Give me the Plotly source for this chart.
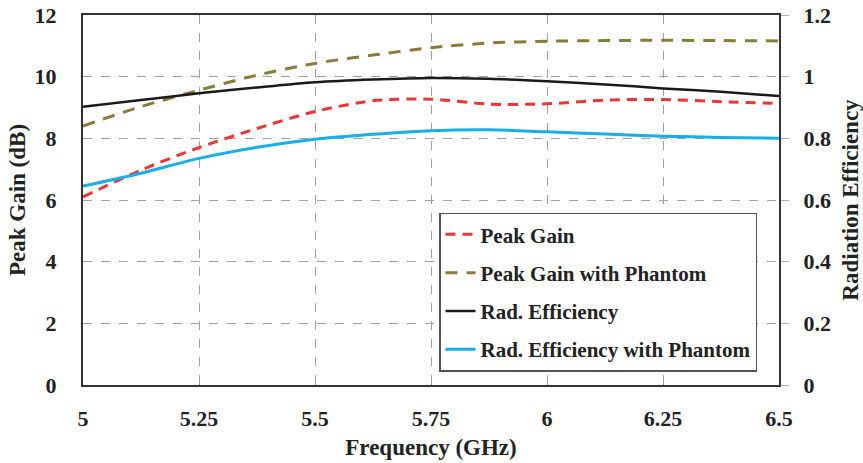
import plotly.graph_objects as go

# Frequency sweep (GHz)
freq = [5.0, 5.125, 5.25, 5.375, 5.5, 5.625, 5.75, 5.875, 6.0, 6.125, 6.25, 6.375, 6.5]

# Peak gain (dB)
peak_gain = [6.10, 6.97, 7.70, 8.32, 8.87, 9.22, 9.27, 9.11, 9.12, 9.24, 9.26, 9.19, 9.13]
peak_gain_phantom = [8.40, 9.03, 9.56, 10.05, 10.43, 10.70, 10.94, 11.09, 11.15, 11.17, 11.18, 11.17, 11.16]

# Radiation efficiency (linear)
rad_eff = [0.902, 0.924, 0.946, 0.965, 0.982, 0.991, 0.996, 0.993, 0.985, 0.975, 0.962, 0.951, 0.937]
rad_eff_phantom = [0.645, 0.687, 0.735, 0.771, 0.797, 0.813, 0.825, 0.828, 0.821, 0.814, 0.807, 0.803, 0.800]

x_ticks = [5, 5.25, 5.5, 5.75, 6, 6.25, 6.5]
x_tick_text = ["5", "5.25", "5.5", "5.75", "6", "6.25", "6.5"]

FONT = "Liberation Serif, Times New Roman, serif"
tick_font = dict(family=FONT, size=22, color="#222", weight="bold")
title_font = dict(family=FONT, size=23, color="#222", weight="bold")

fig = go.Figure()
fig.add_trace(go.Scatter(
    x=freq, y=peak_gain, name="Peak Gain", mode="lines", legendgroup="a",
    line=dict(color="#EE3535", width=3, dash="10px,7px", shape="spline", smoothing=0.8)))
fig.add_trace(go.Scatter(
    x=freq, y=peak_gain_phantom, name="Peak Gain with Phantom", mode="lines", legendgroup="b",
    line=dict(color="#8C7A3A", width=3, dash="12px,9px", shape="spline", smoothing=0.8)))
fig.add_trace(go.Scatter(
    x=freq, y=rad_eff, name="Rad. Efficiency", mode="lines", yaxis="y2", legendgroup="c",
    line=dict(color="#1A1A1A", width=2.5, shape="spline", smoothing=0.8)))
fig.add_trace(go.Scatter(
    x=freq, y=rad_eff_phantom, name="Rad. Efficiency with Phantom", mode="lines", yaxis="y2",
    legendgroup="d",
    line=dict(color="#18AEE8", width=3, shape="spline", smoothing=0.8)))

grid = dict(showgrid=True, gridcolor="#A0A0A8", gridwidth=1, griddash="dash")

fig.update_layout(
    width=863, height=463,
    margin=dict(l=83, r=84, t=15, b=78),
    paper_bgcolor="white", plot_bgcolor="white",
    xaxis=dict(
        range=[5, 6.5], tickvals=x_ticks, ticktext=x_tick_text,
        tickfont=tick_font, ticks="inside", ticklen=5, tickcolor="#999",
        ticklabelstandoff=13, automargin=False,
        showline=True, linecolor="#333", linewidth=2, mirror=True,
        title=dict(text="Frequency (GHz)", font=title_font, standoff=8),
        zeroline=False, **grid),
    yaxis=dict(
        range=[0, 12], dtick=2, tickfont=tick_font, ticks="",
        ticklabelstandoff=20, automargin=False,
        showline=True, linecolor="#333", linewidth=2, mirror=True,
        title=dict(text="Peak Gain (dB)", font=title_font, standoff=3),
        zeroline=False, **grid),
    yaxis2=dict(
        range=[0, 1.2], dtick=0.2, overlaying="y", side="right",
        tickfont=tick_font, ticks="outside", ticklen=8, tickcolor="#B0B0B8",
        ticklabelstandoff=10, showgrid=False, zeroline=False, automargin=False,
        showline=True, linecolor="#333", linewidth=2,
        title=dict(text="Radiation Efficiency", font=title_font, standoff=14)),
    legend=dict(
        x=0.5115, y=0.036, xanchor="left", yanchor="bottom",
        bgcolor="white", bordercolor="#555", borderwidth=1.5,
        font=dict(family=FONT, size=21, color="#222", weight="bold"),
        traceorder="grouped", tracegroupgap=8, itemwidth=30),
    showlegend=True,
)

fig.write_html("out.html")
